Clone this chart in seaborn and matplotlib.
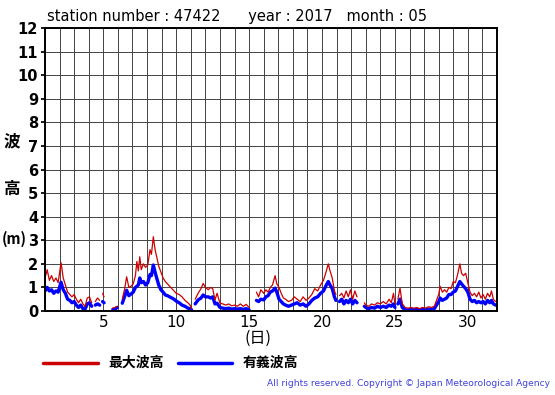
import numpy as np
import pandas as pd
import matplotlib
matplotlib.use("Agg")
import matplotlib.pyplot as plt
import seaborn as sns

nan = np.nan
day = [1.0, 1.15, 1.3, 1.45, 1.6, 1.75, 1.9, 2.1, 2.25, 2.4, 2.55, 2.7, 2.85, 3.0, 3.15, 3.3, 3.45, 3.6, 3.75, 3.9,
       4.05, 4.2, 4.3, 4.45, 4.6, 4.75, 4.85, 4.95, 5.05, 5.15, 5.65, 5.8, 5.95, 6.05, 6.3, 6.45, 6.6, 6.75, 6.9, 7.05,
       7.2, 7.3, 7.4, 7.5, 7.6, 7.75, 7.9, 8.05, 8.2, 8.3, 8.43, 8.55, 8.66, 8.8, 8.95, 9.1, 9.25, 9.4, 9.55, 9.7,
       9.85, 10.0, 10.2, 10.4, 10.6, 10.8, 10.95, 11.05, 11.15, 11.3, 11.5, 11.7, 11.85, 12.0, 12.2, 12.35, 12.5, 12.66, 12.8, 13.0,
       13.2, 13.4, 13.6, 13.8, 14.0, 14.2, 14.4, 14.6, 14.8, 15.0, 15.1, 15.3, 15.4, 15.5, 15.65, 15.8, 16.0, 16.15, 16.3, 16.45,
       16.6, 16.78, 16.9, 17.05, 17.2, 17.35, 17.5, 17.7, 17.9, 18.1, 18.3, 18.5, 18.7, 18.9, 19.1, 19.3, 19.5, 19.7, 19.9, 20.1,
       20.25, 20.43, 20.55, 20.7, 20.85, 20.95, 21.05, 21.2, 21.35, 21.5, 21.65, 21.8, 21.95, 22.1, 22.25, 22.4, 22.5, 22.9, 23.0, 23.2,
       23.4, 23.6, 23.8, 24.0, 24.2, 24.4, 24.6, 24.75, 24.9, 25.0, 25.05, 25.2, 25.35, 25.5, 25.7, 25.9, 26.1, 26.3, 26.5, 26.7,
       26.9, 27.1, 27.3, 27.5, 27.7, 27.85, 28.0, 28.1, 28.25, 28.4, 28.55, 28.7, 28.85, 29.0, 29.15, 29.3, 29.45, 29.57, 29.7, 29.85,
       30.0, 30.15, 30.3, 30.45, 30.6, 30.75, 30.9, 31.05, 31.2, 31.35, 31.5, 31.62, 31.75, 31.9]

max_wave = [1.4, 1.75, 1.3, 1.5, 1.25, 1.4, 1.2, 2.05, 1.4, 1.1, 0.8, 0.7, 0.6, 0.7, 0.5, 0.35, 0.5, 0.3, 0.2, 0.55,
            0.6, 0.35, nan, 0.4, 0.55, 0.45, nan, 0.75, 0.6, nan, 0.12, 0.15, 0.2, nan, 0.5, 0.9, 1.45, 1.0, 1.05, 1.15,
            1.5, 2.1, 1.7, 2.3, 1.75, 2.0, 1.85, 1.95, 2.6, 2.4, 3.15, 2.6, 2.3, 1.9, 1.65, 1.4, 1.25, 1.15, 1.05, 0.95,
            0.85, 0.75, 0.7, 0.6, 0.45, 0.35, 0.25, 0.1, nan, 0.5, 0.75, 0.95, 1.17, 1.0, 0.9, 1.0, 0.95, 0.47, 0.75, 0.33,
            0.3, 0.25, 0.3, 0.22, 0.25, 0.2, 0.3, 0.2, 0.28, 0.15, nan, 0.1, nan, 0.8, 0.6, 0.9, 0.75, 0.9, 0.8, 1.0,
            1.1, 1.5, 1.15, 1.0, 0.75, 0.55, 0.5, 0.4, 0.45, 0.6, 0.5, 0.4, 0.6, 0.45, 0.55, 0.7, 0.95, 0.85, 1.1, 1.3,
            1.6, 2.0, 1.7, 1.4, 0.85, 0.7, nan, 0.65, 0.75, 0.55, 0.85, 0.6, 0.9, 0.5, 0.85, 0.6, nan, 0.35, 0.25, 0.2,
            0.3, 0.25, 0.35, 0.3, 0.4, 0.3, 0.5, 0.35, 0.75, 0.3, nan, 0.5, 0.97, 0.3, 0.15, 0.12, 0.15, 0.12, 0.15, 0.1,
            0.15, 0.12, 0.18, 0.15, 0.2, 0.45, 0.7, 1.05, 0.8, 0.9, 0.8, 1.0, 0.95, 1.25, 1.2, 1.55, 2.0, 1.6, 1.5, 1.6,
            1.2, 0.8, 0.65, 0.75, 0.6, 0.8, 0.55, 0.7, 0.5, 0.75, 0.6, 0.85, 0.5, 0.4]

sig_wave = [0.85, 1.0, 0.85, 0.9, 0.75, 0.85, 0.8, 1.22, 0.9, 0.75, 0.5, 0.45, 0.35, 0.4, 0.25, 0.15, 0.25, 0.1, 0.08, 0.3,
            0.35, 0.2, nan, 0.25, 0.3, 0.25, nan, 0.4, 0.35, nan, 0.07, 0.08, 0.15, nan, 0.33, 0.6, 0.88, 0.65, 0.72, 0.8,
            1.0, 1.05, 1.1, 1.4, 1.2, 1.25, 1.1, 1.2, 1.55, 1.5, 1.95, 1.65, 1.4, 1.1, 0.9, 0.8, 0.68, 0.65, 0.6, 0.55,
            0.5, 0.42, 0.35, 0.25, 0.2, 0.12, 0.1, 0.05, nan, 0.3, 0.47, 0.55, 0.68, 0.6, 0.6, 0.55, 0.6, 0.3, 0.33, 0.15,
            0.12, 0.1, 0.12, 0.08, 0.1, 0.08, 0.1, 0.07, 0.1, 0.05, nan, 0.05, nan, 0.45, 0.4, 0.5, 0.47, 0.6, 0.65, 0.8,
            0.85, 0.97, 0.8, 0.5, 0.4, 0.3, 0.25, 0.2, 0.25, 0.3, 0.35, 0.25, 0.3, 0.2, 0.3, 0.45, 0.55, 0.6, 0.75, 0.85,
            1.05, 1.25, 1.1, 0.95, 0.6, 0.45, nan, 0.4, 0.5, 0.3, 0.45, 0.35, 0.5, 0.3, 0.45, 0.35, nan, 0.2, 0.15, 0.1,
            0.15, 0.12, 0.2, 0.15, 0.2, 0.15, 0.25, 0.2, 0.3, 0.15, nan, 0.3, 0.5, 0.15, 0.05, 0.05, 0.06, 0.05, 0.06, 0.05,
            0.07, 0.06, 0.08, 0.07, 0.1, 0.25, 0.4, 0.55, 0.45, 0.5, 0.55, 0.7, 0.7, 0.8, 0.85, 1.05, 1.25, 1.15, 1.05, 0.95,
            0.8, 0.5, 0.4, 0.45, 0.35, 0.4, 0.35, 0.4, 0.3, 0.45, 0.35, 0.45, 0.3, 0.25]

x_ticks = [5, 10, 15, 20, 25, 30]
y_ticks = list(range(0, 13))
title_text = "station number : 47422      year : 2017   month : 05"
legend_labels = ["最大波高", "有義波高"]
copyright_text = "All rights reserved. Copyright \u00a9 Japan Meteorological Agency"

df = pd.DataFrame({"day": day, "max": max_wave, "sig": sig_wave})
df["seg"] = df["max"].isna().cumsum()
df = df.dropna()

sns.set_theme(style="white")
plt.rcParams["font.family"] = ["DejaVu Sans"]
plt.rcParams["text.color"] = "black"
cjk = ["Noto Sans CJK JP", "DejaVu Sans"]

fig = plt.figure(figsize=(5.55, 3.95), dpi=100)
ax = fig.add_axes([45/555, 1-311/395, (497-45)/555, (311-28)/395])

red = "#cc0000"
blue = "#0000ff"
sns.lineplot(data=df, x="day", y="sig", units="seg", estimator=None, color=blue, lw=2.4, ax=ax)
sns.lineplot(data=df, x="day", y="max", units="seg", estimator=None, color=red, lw=0.9, ax=ax)

ax.set_xlim(1, 32)
ax.set_ylim(0, 12)
ax.set_xticks(np.arange(1, 33), minor=True)
ax.set_xticks(x_ticks)
ax.set_yticks(y_ticks)
ax.grid(which="both", axis="x", color="#444444", lw=0.7)
ax.grid(which="major", axis="y", color="#444444", lw=0.7)
ax.set_axisbelow(True)
for s in ax.spines.values():
    s.set_color("black")
    s.set_linewidth(1.4)
ax.tick_params(axis="x", which="both", length=0, labelsize=11, pad=3, colors="black")
ax.tick_params(axis="y", length=3, labelsize=10.5, pad=2, colors="black", direction="out", left=True)
for lab in ax.get_yticklabels():
    lab.set_fontweight("bold")
ax.set_xlabel("")
ax.set_ylabel("")

fig.text(47/555, 1-16/395, title_text, fontsize=10.5, va="center", ha="left", color="black")
fig.text(258/555, 1-338/395, "(日)", fontsize=11.5, va="center", ha="center", family=cjk, color="black")
fig.text(12/555, 1-141/395, "波", fontsize=12, va="center", ha="center", family=cjk, fontweight="bold", color="black")
fig.text(12/555, 1-189/395, "高", fontsize=12, va="center", ha="center", family=cjk, fontweight="bold", color="black")
fig.text(14/555, 1-239/395, "(m)", fontsize=10.5, va="center", ha="center", family=cjk, fontweight="bold", color="black")

fig.add_artist(plt.Line2D([43/555, 98/555], [1-363/395, 1-363/395], color=red, lw=2.5))
fig.text(108/555, 1-363/395, legend_labels[0], fontsize=10, va="center", ha="left", family=cjk, fontweight="bold", color="black")
fig.add_artist(plt.Line2D([178/555, 232/555], [1-363/395, 1-363/395], color=blue, lw=2.5))
fig.text(243/555, 1-363/395, legend_labels[1], fontsize=10, va="center", ha="left", family=cjk, fontweight="bold", color="black")

fig.text(550/555, 1-384/395, copyright_text, fontsize=6.6, va="center", ha="right", color="#4040dd")

fig.savefig("out.png", dpi=100)
